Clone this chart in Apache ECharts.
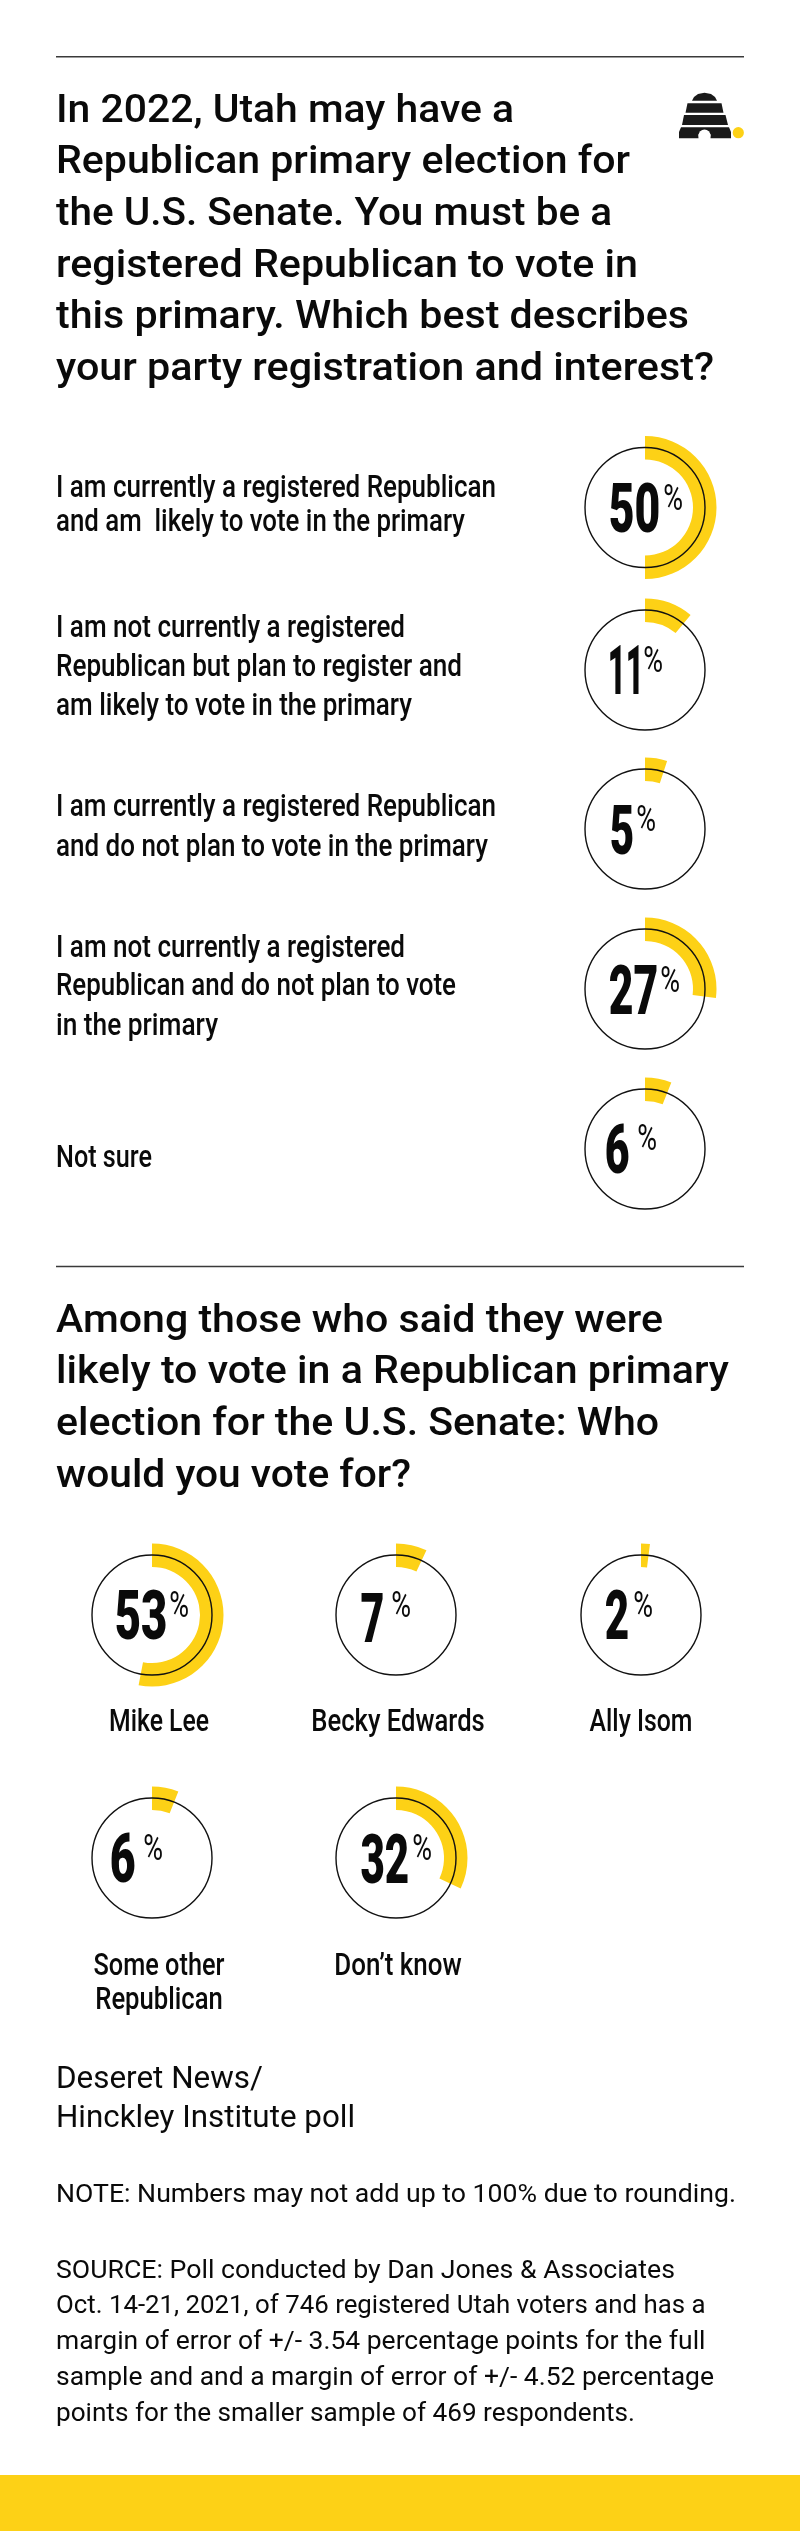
<!DOCTYPE html>
<html><head><meta charset="utf-8">
<style>html,body{margin:0;padding:0;background:#fff}#c{width:800px;height:2531px}</style>
<script src="https://cdn.jsdelivr.net/npm/echarts@6/dist/echarts.min.js"></script>
</head><body><div id="c"></div>
<script>
// ---------- data ----------
const titleOne = ["In 2022, Utah may have a","Republican primary election for","the U.S. Senate. You must be a","registered Republican to vote in","this primary. Which best describes","your party registration and interest?"];
const titleTwo = ["Among those who said they were","likely to vote in a Republican primary","election for the U.S. Senate: Who","would you vote for?"];
const questionLabels = [
  ["I am currently a registered Republican","and am  likely to vote in the primary"],
  ["I am not currently a registered","Republican but plan to register and","am likely to vote in the primary"],
  ["I am currently a registered Republican","and do not plan to vote in the primary"],
  ["I am not currently a registered","Republican and do not plan to vote","in the primary"],
  ["Not sure"]
];
const questionValues = [50, 11, 5, 27, 6];
const candidateLabels = [["Mike Lee"],["Becky Edwards"],["Ally Isom"],["Some other","Republican"],["Don’t know"]];
const candidateValues = [53, 7, 2, 6, 32];
const pollName = ["Deseret News/","Hinckley Institute poll"];
const noteText = "NOTE: Numbers may not add up to 100% due to rounding.";
const sourceText = ["SOURCE: Poll conducted by Dan Jones & Associates","Oct. 14-21, 2021, of 746 registered Utah voters and has a","margin of error of +/- 3.54 percentage points for the full","sample and and a margin of error of +/- 4.52 percentage","points for the smaller sample of 469 respondents."];

// ---------- layout ----------
const YELLOW = "#FDD116", INK = "#0a0a0a";
const qCenters = [[645,507.5],[645,670],[645,829],[645,989],[645,1149]];
const cCenters = [[152,1615],[396,1615],[641,1615],[152,1858],[396,1858]];
const titleOneW = [458,574,556,582,633,658];
const titleTwoW = [607,673,603,355];
const qLabelBase = [[497.3,530.7],[636.7,675.7,715],[816,856],[956.7,995,1035],[1167]];
const qLabelW = [[440,409],[349,406,356],[440,432],[349,400,162],[96]];
const cLabelBase = [[1730.7],[1730.7],[1730.7],[1975,2009],[1975]];
const cLabelW = [[100],[173.5],[103],[131,127.5],[127.5]];
const cLabelX = [159,398,641,159,398];
const sourceW = [619,649.5,649.5,658,579];
// number: ink left x, baseline, ink width; percent: ink left x, top
const qNum = [[610,532,49,664,484],[610,694,29,644,646],[611,854,22,637,805],[610,1014,47,661,966],[606,1173,23,638,1124]];
const cNum = [[116,1639,50,170,1591],[361,1642,22,392,1591],[606,1639,22,634,1591],[111,1882,24,144,1834],[361,1883,47,413,1834]];

const cv = document.createElement("canvas").getContext("2d");
function fontStr(s){return `${s.weight} ${s.size}px ${s.family}`;}
function measure(str,s){cv.font=fontStr(s);cv.textBaseline="middle";return cv.measureText(str);}
function baseOff(s){return measure("H",s).actualBoundingBoxDescent;}

const H = {family:"Roboto",weight:500,size:38.5};
const L = {family:"Roboto",weight:500,size:31};
const P = {family:"Roboto",weight:400,size:30.5};
const N = {family:"Roboto",weight:400,size:26.5};
const D = {family:"Roboto",weight:900,size:69};
const PC = {family:"Roboto",weight:400,size:36};

const gfx = [];
function txt(str,x,base,s,sx,align){
  gfx.push({type:"text",x:x,y:base-baseOff(s),scaleX:sx,z:20,silent:true,
    style:{text:str,x:0,y:0,fill:INK,font:fontStr(s),align:align||"left",verticalAlign:"middle"}});
}
// scale a line so its printed width matches the width
function line(str,x,base,s,w,align){txt(str,x,base,s,w/measure(str,s).width,align);}
// same, but fitted on the ink box (big numerals)
function inkLine(str,x,base,s,w){
  const m=measure(str,s), ink=m.actualBoundingBoxLeft+m.actualBoundingBoxRight, sx=w/ink;
  txt(str,x+m.actualBoundingBoxLeft*sx,base,s,sx);
}
function rule(y){gfx.push({type:"rect",z:5,silent:true,shape:{x:56,y:y-0.8,width:688,height:1.6},style:{fill:"#3a3a3a"}});}
rule(56.7); rule(1266.5);
gfx.push({type:"rect",z:5,silent:true,shape:{x:0,y:2475,width:800,height:56},style:{fill:YELLOW}});

// logo
const LOGO = "#1a1a1a";
function poly(points,fill,z){gfx.push({type:"polygon",z:z||5,silent:true,shape:{points:points},style:{fill:fill||LOGO}});}
poly([[692,100.7],[694,97],[698,94],[704.5,92.7],[711,94],[715,97],[717,100.7]]);
poly([[687.5,103.3],[721.5,103.3],[723.5,112.7],[685.5,112.7]]);
poly([[684,115],[725.5,115],[728,125],[682,125]]);
poly([[681,127.3],[729,127.3],[731,132],[731,138.3],[679,138.3],[679,132]]);
gfx.push({type:"rect",z:6,silent:true,shape:{x:698.5,y:134,width:12,height:5},style:{fill:"#fff"}});
gfx.push({type:"circle",z:6,silent:true,shape:{cx:704.5,cy:135.5,r:6},style:{fill:"#fff"}});
gfx.push({type:"circle",z:5,silent:true,shape:{cx:738.3,cy:132.7,r:5.6},style:{fill:YELLOW}});

titleOne.forEach((t,i)=>line(t,56,121.7+i*51.6,H,titleOneW[i]));
titleTwo.forEach((t,i)=>line(t,56,1331.7+i*51.6,H,titleTwoW[i]));
questionLabels.forEach((ls,i)=>ls.forEach((t,j)=>line(t,56,qLabelBase[i][j],L,qLabelW[i][j])));
candidateLabels.forEach((ls,i)=>ls.forEach((t,j)=>line(t,cLabelX[i],cLabelBase[i][j],L,cLabelW[i][j],"center")));
pollName.forEach((t,i)=>line(t,56,[2088,2127][i],P,[207,299][i]));
line(noteText,56,2202,N,680);
sourceText.forEach((t,i)=>line(t,56,2277.7+i*35.75,N,sourceW[i]));

const series = [];
function ring(v,c,num){
  series.push({type:"pie",center:c,radius:[48,71.5],startAngle:90,clockwise:true,silent:true,
    animation:false,label:{show:false},labelLine:{show:false},z:2,
    data:[{value:v,itemStyle:{color:YELLOW}},{value:100-v,itemStyle:{color:"rgba(0,0,0,0)"}}]});
  gfx.push({type:"circle",z:10,silent:true,shape:{cx:c[0],cy:c[1],r:60},style:{fill:"none",stroke:"#111",lineWidth:1.4}});
  inkLine(String(v),num[0],num[1],D,num[2]);
  inkLine("%",num[3],num[4]+25.5,PC,18);
}
questionValues.forEach((v,i)=>ring(v,qCenters[i],qNum[i]));
candidateValues.forEach((v,i)=>ring(v,cCenters[i],cNum[i]));

const chart = echarts.init(document.getElementById("c"),null,{renderer:"canvas",width:800,height:2531});
chart.setOption({backgroundColor:"#fff",animation:false,series:series,graphic:{elements:gfx}});
</script></body></html>
